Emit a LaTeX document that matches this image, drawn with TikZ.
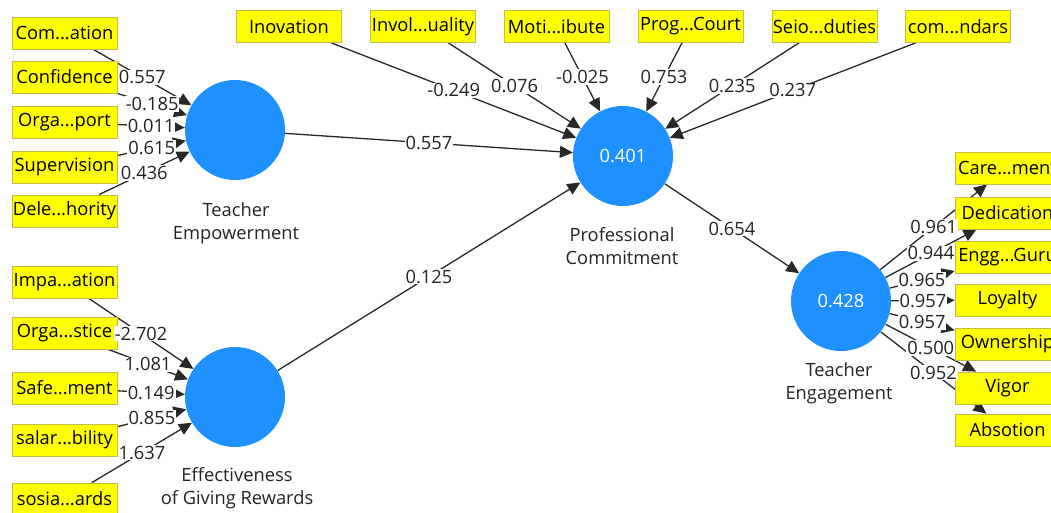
\documentclass[tikz,border=0pt]{standalone}
\usepackage{fontspec}
\setmainfont{Open Sans}
\usetikzlibrary{arrows.meta}
\definecolor{lvblue}{RGB}{30,144,255}
\definecolor{indyel}{RGB}{255,255,0}
\definecolor{indborder}{RGB}{190,190,70}
\definecolor{linegray}{RGB}{40,40,40}
\definecolor{txtgray}{RGB}{35,35,35}
\pgfdeclarelayer{bg}
\pgfdeclarelayer{fg}
\pgfsetlayers{bg,main,fg}
\newcommand{\txtfont}{\fontsize{18.3}{22.5}\selectfont}
\begin{document}
\begin{tikzpicture}[x=1pt,y=-1pt,
  ind/.style={rectangle, fill=indyel, draw=indborder, line width=0.8pt,
    minimum width=105pt, minimum height=32pt, inner sep=0pt,
    font=\txtfont, text=black},
  lv/.style={circle, fill=lvblue, minimum size=100pt, inner sep=0pt,
    font=\txtfont, text=white},
  lvname/.style={align=center, font=\txtfont, text=txtgray, inner sep=0pt},
  conn/.style={draw=linegray, line width=1.3pt,
    -{Triangle[length=13pt,width=12pt]}},
  coef/.style={fill=white, inner sep=1pt, font=\txtfont, text=txtgray}
]
\useasboundingbox (0,0) rectangle (1051,513);
\clip (0,0) rectangle (1051,513);

% latent variables
\node[lv] (te)  at (235,130) {};
\node[lv] (eff) at (235,397) {};
\node[lv] (pc)  at (623,156) {0.401};
\node[lv] (eng) at (841,301) {0.428};

\node[lvname] (teN)  at (236,223) {Teacher\\Empowerment};
\node[lvname] (effN) at (237,488) {Effectiveness\\of Giving Rewards};
\node[lvname] (pcN)  at (622,246) {Professional\\Commitment};
\node[lvname] (engN) at (839,383) {Teacher\\Engagement};

% indicators of Teacher Empowerment
\node[ind] (c1) at (64.5,33)  {Com...ation};
\node[ind] (c2) at (64.5,77)  {Confidence};
\node[ind] (c3) at (64.5,122) {Orga...port};
\node[ind] (c4) at (64.5,167) {Supervision};
\node[ind] (c5) at (64.5,211) {Dele...hority};

% indicators of Effectiveness of Giving Rewards
\node[ind] (e1) at (64.5,282) {Impa...ation};
\node[ind] (e2) at (64.5,333) {Orga...stice};
\node[ind] (e3) at (64.5,388) {Safe...ment};
\node[ind] (e4) at (64.5,440) {salar...bility};
\node[ind] (e5) at (64.5,499) {sosia...ards};

% indicators of Professional Commitment
\node[ind] (t1) at (289,26.5)   {Inovation};
\node[ind] (t2) at (423,26.5)   {Invol...uality};
\node[ind] (t3) at (556.5,26.5) {Moti...ibute};
\node[ind] (t4) at (690.5,26.5) {Prog...Court};
\node[ind] (t5) at (824.5,26.5) {Seio...duties};
\node[ind] (t6) at (958,26.5)   {com...ndars};

% indicators of Teacher Engagement
\node[ind] (r1) at (1007.5,168) {Care...ment};
\node[ind] (r2) at (1007.5,213) {Dedication};
\node[ind] (r3) at (1007.5,257) {Engg...Guru};
\node[ind] (r4) at (1007.5,300) {Loyalty};
\node[ind] (r5) at (1007.5,344) {Ownership};
\node[ind] (r6) at (1007.5,388) {Vigor};
\node[ind] (r7) at (1007.5,430) {Absotion};

% connectors
\begin{pgfonlayer}{bg}
\clip (0,0) rectangle (1051,513);
\foreach \s in {c1,c2,c3,c4,c5} \draw[conn] (\s) -- (te);
\foreach \s in {e1,e2,e3,e4,e5} \draw[conn] (\s) -- (eff);
\foreach \s in {t1,t2,t3,t4,t5,t6} \draw[conn] (\s) -- (pc);
\foreach \s in {r1,r2,r3,r4,r5,r6,r7} \draw[conn] (eng) -- (\s);
\draw[conn] (te) -- (pc);
\draw[conn] (eff) -- (pc);
\draw[conn] (pc) -- (eng);
\end{pgfonlayer}

% coefficients
\begin{pgfonlayer}{fg}
\clip (0,0) rectangle (1051,513);
\path (c1) -- (te) node[coef,midway] {0.557};
\path (c2) -- (te) node[coef,midway] {-0.185};
\path (c3) -- (te) node[coef,midway] {0.011};
\path (c4) -- (te) node[coef,midway] {0.615};
\path (c5) -- (te) node[coef,midway] {0.436};
\path (e1) -- (eff) node[coef,midway] {-2.702};
\path (e2) -- (eff) node[coef,midway] {1.081};
\path (e3) -- (eff) node[coef,midway] {0.149};
\path (e4) -- (eff) node[coef,midway] {0.855};
\path (e5) -- (eff) node[coef,midway] {1.637};
\path (t1) -- (pc) node[coef,midway] {-0.249};
\path (t2) -- (pc) node[coef,midway] {0.076};
\path (t3) -- (pc) node[coef,midway] {-0.025};
\path (t4) -- (pc) node[coef,midway] {0.753};
\path (t5) -- (pc) node[coef,midway] {0.235};
\path (t6) -- (pc) node[coef,midway] {0.237};
\path (eng) -- (r1) node[coef,midway] {0.961};
\path (eng) -- (r2) node[coef,midway] {0.944};
\path (eng) -- (r3) node[coef,midway] {0.965};
\path (eng) -- (r4) node[coef,midway] {0.957};
\path (eng) -- (r5) node[coef,midway] {0.957};
\path (eng) -- (r6) node[coef,midway] {0.500};
\path (eng) -- (r7) node[coef,midway] {0.952};
\path (te) -- (pc) node[coef,midway] {0.557};
\path (eff) -- (pc) node[coef,midway] {0.125};
\path (pc) -- (eng) node[coef,midway] {0.654};
\end{pgfonlayer}
\end{tikzpicture}
\end{document}
